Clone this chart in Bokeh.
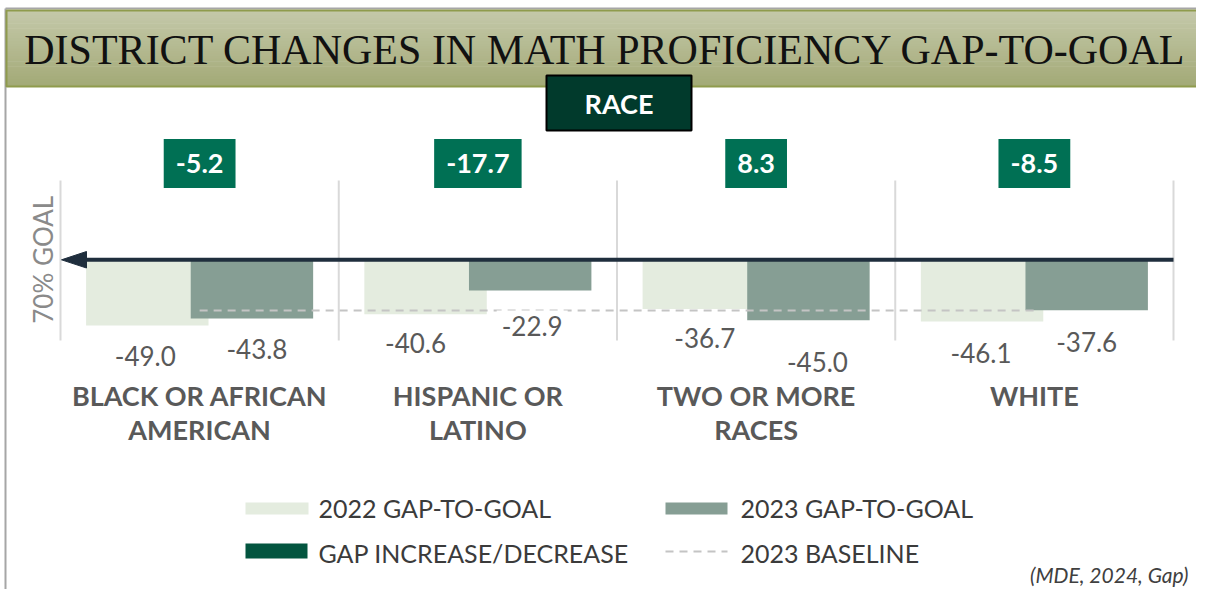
import math
from bokeh.plotting import figure
from bokeh.models import Range1d, ColumnDataSource
from bokeh.embed import file_html
from bokeh.resources import INLINE
from bokeh.core.properties import value

# ---------------- data ----------------
categories = ["BLACK OR AFRICAN\nAMERICAN", "HISPANIC OR\nLATINO", "TWO OR MORE\nRACES", "WHITE"]
gap_2022 = [-49.0, -40.6, -36.7, -46.1]
gap_2023 = [-43.8, -22.9, -45.0, -37.6]
gap_change = [-5.2, -17.7, 8.3, -8.5]
baseline_2023 = -37.8
title_text = "DISTRICT CHANGES IN MATH PROFICIENCY GAP-TO-GOAL"
group_label = "RACE"
goal_label = "70% GOAL"
legend_labels = ["2022 GAP-TO-GOAL", "2023 GAP-TO-GOAL", "GAP INCREASE/DECREASE", "2023 BASELINE"]
source_note = "(MDE, 2024, Gap)"

# ---------------- styles ----------------
C_2022 = "#e4ecdf"
C_2023 = "#869e94"
C_CHANGE = "#007054"
C_CHANGE_LEG = "#03553f"
C_GOAL = "#1f2e3d"
C_BASE = "#c4c4c4"
C_LABEL = "#595959"
FONT = "Lato"

W, H = 1196, 589
OFF = 0
CAT_PX = 278.25      # pixel width of one category
X0_PX = 60           # page x of first category boundary
ZERO_PX = 259.3      # page y of the goal (0) line
K = 1.341            # pixels per gap point


def px2x(px):
    return (px - X0_PX) / CAT_PX


def px2y(py):
    return (ZERO_PX - py) / K


p = figure(width=W, height=H, output_backend="svg", toolbar_location=None,
           x_range=Range1d(px2x(OFF), px2x(OFF + W)),
           y_range=Range1d(px2y(OFF + H), px2y(OFF)),
           x_axis_type=None, y_axis_type=None, min_border=0)
p.outline_line_color = None
p.background_fill_color = "white"
p.border_fill_color = "white"

# outer frame (left + top)
p.segment(x0=[px2x(5), px2x(5)], y0=[px2y(8), px2y(8)],
          x1=[px2x(5), px2x(OFF + W)], y1=[px2y(OFF + H), px2y(8)],
          line_color="#a6a6a6", line_width=2)

# title banner with vertical gradient
n = 30
top_c = (196, 200, 169)
bot_c = (163, 170, 119)
b_top, b_bot = 10, 86
lefts, rights, tops, bots, cols = [], [], [], [], []
for i in range(n):
    t = i / (n - 1)
    c = tuple(int(round(top_c[k] + (bot_c[k] - top_c[k]) * t)) for k in range(3))
    y0 = b_top + (b_bot - b_top) * i / n
    y1 = b_top + (b_bot - b_top) * (i + 1) / n + 0.6
    lefts.append(px2x(6)); rights.append(px2x(OFF + W))
    tops.append(px2y(y0)); bots.append(px2y(y1))
    cols.append("#%02x%02x%02x" % c)
p.quad(left=lefts, right=rights, top=tops, bottom=bots, fill_color=cols, line_color=None)
p.quad(left=[px2x(6)], right=[px2x(OFF + W + 2)], top=[px2y(b_top)], bottom=[px2y(b_bot)],
       fill_color=None, line_color="#8f9b4d", line_width=2)
p.text(x=[px2x(605)], y=[px2y(49)], text=[title_text], text_font=value("Liberation Serif"),
       text_font_size="42px", text_align="center", text_baseline="middle", text_color="#111111")

# RACE box
p.quad(left=[px2x(546)], right=[px2x(691)], top=[px2y(75)], bottom=[px2y(130)],
       fill_color="#013a2c", line_color="#000000", line_width=2)
p.text(x=[px2x(618.5)], y=[px2y(103)], text=[group_label], text_font=value(FONT),
       text_font_style="bold", text_font_size="27px", text_color="white",
       text_align="center", text_baseline="middle")

# category separators
ncat = len(categories)
bounds = list(range(ncat + 1))
p.segment(x0=bounds, x1=bounds, y0=[px2y(180)] * len(bounds), y1=[px2y(340)] * len(bounds),
          line_color="#d9d9d9", line_width=2)

# bars
centers = [i + 0.5 for i in range(ncat)]
x22 = [i + 0.312 for i in range(ncat)]
x23 = [i + 0.688 for i in range(ncat)]
p.vbar(x=x22, top=0, bottom=gap_2022, width=0.44, fill_color=C_2022, line_color=None)
p.vbar(x=x23, top=0, bottom=gap_2023, width=0.44, fill_color=C_2023, line_color=None)

# 2023 baseline
p.line(x=[centers[0], centers[-1]], y=[baseline_2023, baseline_2023],
       line_color=C_BASE, line_width=2, line_dash="8 6")

# goal line with arrow head
p.segment(x0=[px2x(80)], x1=[bounds[-1]], y0=[0], y1=[0], line_color=C_GOAL, line_width=4)
p.patch(x=[px2x(61), px2x(86), px2x(86)], y=[0, px2y(251), px2y(267.5)],
        fill_color=C_GOAL, line_color=C_GOAL)
p.text(x=[px2x(42)], y=[0], text=[goal_label], angle=math.pi / 2, text_font=value(FONT),
       text_font_size="26px", text_color="#8a8a8a", text_align="center", text_baseline="middle")

# value labels
lab_x = x22 + x23
lab_v = gap_2022 + gap_2023
lab_dx = [-2, -10, 1, -1, 5, 2, 9, 0]
lab_dy = [30, 29, 29, 31, 30, 35, 42, 32]
lsrc = ColumnDataSource(dict(x=lab_x, y=lab_v, text=["%.1f" % v for v in lab_v], dx=lab_dx, dy=lab_dy))
p.text(x="x", y="y", text="text", x_offset="dx", y_offset="dy", source=lsrc,
       text_font=value(FONT), text_font_size="26px", text_color=C_LABEL,
       text_align="center", text_baseline="middle",
       background_fill_color="white", padding=5)

# change boxes
p.text(x=centers, y=[px2y(163)] * ncat, text=["%.1f" % c for c in gap_change],
       text_font=value(FONT), text_font_style="bold", text_font_size="27px", text_color="white",
       text_align="center", text_baseline="middle",
       background_fill_color=C_CHANGE, padding=(12, 15))

# category labels
p.text(x=centers, y=[px2y(378)] * ncat, text=categories, text_font=value(FONT),
       text_font_style="bold", text_font_size="27px", text_color=C_LABEL,
       text_align="center", text_baseline="top", text_line_height=1.05)

# legend
p.quad(left=[px2x(245), px2x(665), px2x(245)], right=[px2x(308), px2x(727), px2x(307)],
       top=[px2y(502), px2y(502), px2y(543)], bottom=[px2y(514), px2y(514), px2y(558)],
       fill_color=[C_2022, C_2023, C_CHANGE_LEG], line_color=None)
p.line(x=[px2x(665), px2x(727)], y=[px2y(551), px2y(551)], line_color=C_BASE,
       line_width=2, line_dash="8 6")
p.text(x=[px2x(318), px2x(740), px2x(318), px2x(740)],
       y=[px2y(507), px2y(507), px2y(552), px2y(552)], text=legend_labels,
       text_font=value(FONT), text_font_size="25px", text_color="#3b3b3b",
       text_align="left", text_baseline="middle")
p.text(x=[px2x(1188)], y=[px2y(574)], text=[source_note], text_font=value(FONT),
       text_font_style="italic", text_font_size="21px", text_color="#404040",
       text_align="right", text_baseline="middle")

open("out.html", "w").write(file_html(p, INLINE, "District changes in math proficiency gap-to-goal"))
